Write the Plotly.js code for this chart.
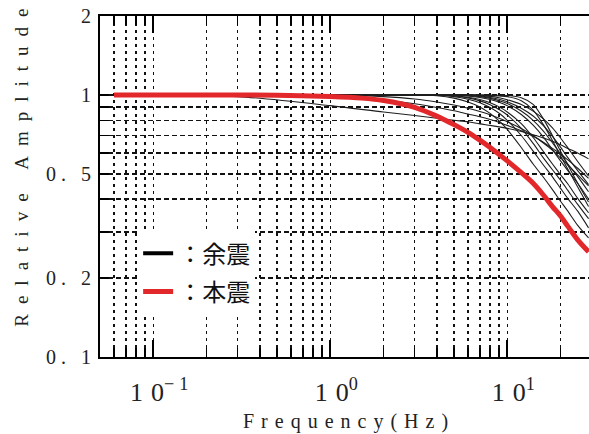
<!DOCTYPE html>
<html><head><meta charset="utf-8">
<script src="https://cdn.plot.ly/plotly-3.0.1.min.js"></script>
<style>html,body{margin:0;padding:0;background:#fff;overflow:hidden}</style>
</head><body><div id="chart" style="width:589px;height:434px"></div>
<script>
// ---- data ----
const freq = [0.06, 0.3, 1, 2, 3, 4, 5, 6, 7, 8, 9, 10, 12, 14, 16, 18, 20, 22, 25, 28.8];
const as01 = [1.0, 0.985, 0.91, 0.86, 0.835, 0.815, 0.80, 0.79, 0.775, 0.765, 0.755, 0.745, 0.725, 0.705, 0.685, 0.665, 0.645, 0.625, 0.60, 0.57];
const as02 = [1.0, 0.998, 0.985, 0.955, 0.925, 0.895, 0.87, 0.845, 0.825, 0.805, 0.785, 0.765, 0.73, 0.695, 0.66, 0.625, 0.595, 0.565, 0.525, 0.48];
const as03 = [1.0, 1.0, 0.997, 0.985, 0.965, 0.94, 0.915, 0.89, 0.865, 0.84, 0.815, 0.79, 0.745, 0.70, 0.655, 0.615, 0.575, 0.54, 0.495, 0.45];
const as04 = [1.0, 1.0, 1.0, 1.0, 0.999, 0.992, 0.972, 0.94, 0.90, 0.85, 0.795, 0.738, 0.63, 0.545, 0.485, 0.435, 0.393, 0.36, 0.318, 0.285];
const as05 = [1.0, 1.0, 1.0, 1.0, 1.0, 0.997, 0.985, 0.963, 0.934, 0.895, 0.851, 0.80, 0.70, 0.61, 0.54, 0.487, 0.44, 0.402, 0.36, 0.311];
const as06 = [1.0, 1.0, 1.0, 1.0, 1.0, 0.999, 0.991, 0.974, 0.949, 0.918, 0.879, 0.838, 0.745, 0.653, 0.575, 0.518, 0.473, 0.432, 0.382, 0.337];
const as07 = [1.0, 1.0, 1.0, 1.0, 1.0, 1.0, 0.993, 0.98, 0.96, 0.933, 0.90, 0.861, 0.777, 0.688, 0.608, 0.545, 0.496, 0.457, 0.403, 0.355];
const as08 = [1.0, 1.0, 1.0, 1.0, 1.0, 1.0, 0.998, 0.991, 0.978, 0.96, 0.937, 0.909, 0.842, 0.766, 0.69, 0.618, 0.56, 0.514, 0.46, 0.40];
const as09 = [1.0, 1.0, 1.0, 1.0, 1.0, 1.0, 1.0, 0.994, 0.985, 0.97, 0.95, 0.927, 0.868, 0.80, 0.728, 0.657, 0.595, 0.545, 0.488, 0.427];
const as10 = [1.0, 1.0, 1.0, 1.0, 1.0, 1.0, 1.0, 0.996, 0.99, 0.977, 0.962, 0.941, 0.89, 0.831, 0.763, 0.695, 0.632, 0.576, 0.514, 0.455];
const as11 = [1.0, 1.0, 1.0, 1.0, 1.0, 1.0, 1.0, 0.999, 0.994, 0.987, 0.975, 0.959, 0.919, 0.867, 0.81, 0.748, 0.685, 0.628, 0.557, 0.49];
const as12 = [1.0, 1.0, 1.0, 1.0, 1.0, 1.0, 1.0, 1.0, 0.997, 0.994, 0.99, 0.985, 0.95, 0.875, 0.77, 0.67, 0.585, 0.52, 0.445, 0.375];
const as13 = [1.0, 1.0, 1.0, 1.0, 1.0, 1.0, 1.0, 1.0, 1.0, 0.998, 0.997, 0.995, 0.975, 0.92, 0.81, 0.70, 0.61, 0.54, 0.46, 0.39];
const aftershocks = [as01, as02, as03, as04, as05, as06, as07, as08, as09, as10, as11, as12, as13];

const mainFreq = [0.06, 0.2, 0.5, 1, 1.5, 2, 3, 4, 5, 6, 7, 8, 10, 12, 14, 16, 18, 20, 22, 25, 28.8];
const mainshock = [1.0, 1.0, 0.997, 0.985, 0.972, 0.952, 0.897, 0.83, 0.77, 0.72, 0.672, 0.63, 0.56, 0.505, 0.46, 0.415, 0.375, 0.345, 0.315, 0.28, 0.252];

const legendLabels = ['：余震', '：本震'];
const xMajor = [0.1, 1, 10];
const xExponents = ['−1', '0', '1'];
const xMinor = [0.06, 0.07, 0.08, 0.09, 0.2, 0.3, 0.4, 0.5, 0.6, 0.7, 0.8, 0.9, 2, 3, 4, 5, 6, 7, 8, 9, 20];
const yMajor = [0.1, 0.2, 0.5, 1, 2];
const yLabels = ['0.1', '0.2', '0.5', '1', '2'];
const yMinor = [0.3, 0.4, 0.6, 0.7, 0.8, 0.9];
const xTitle = 'Frequency(Hz)';
const yTitle = 'Relative Amplitude';

// ---- helpers ----
const SERIF = '"Liberation Serif"';
function spaced(s, ls) {
  if (s.length < 2) return s;
  return '<span style="letter-spacing:' + ls + 'px">' + s.slice(0, -1) + '</span>' + s.slice(-1);
}

const traces = aftershocks.map(a => ({
  x: freq, y: a, type: 'scatter', mode: 'lines',
  line: {color: '#1e1e1e', width: 1.1, shape: 'spline', smoothing: 0.8},
  showlegend: false, hoverinfo: 'skip'
}));
traces.push({x: [null], y: [null], type: 'scatter', mode: 'lines', legendgroup: 'a',
  line: {color: '#000', width: 4}, name: legendLabels[0], showlegend: true});
traces.push({x: mainFreq, y: mainshock, type: 'scatter', mode: 'lines', legendgroup: 'b',
  line: {color: '#e3282b', width: 5, shape: 'spline', smoothing: 0.8},
  name: legendLabels[1], showlegend: true});

const gridCol = '#111';
const layout = {
  width: 589, height: 434,
  margin: {l: 100, r: 0, t: 16, b: 77, pad: 0},
  paper_bgcolor: '#fff', plot_bgcolor: '#fff',
  font: {family: SERIF, color: '#222'},
  showlegend: true,
  legend: {x: 0.078, y: 0.369, xanchor: 'left', yanchor: 'top', bgcolor: '#fff',
    traceorder: 'grouped', tracegroupgap: 4,
    borderwidth: 0, font: {family: 'Noto Sans CJK JP', size: 24, color: '#111'}},
  xaxis: {
    type: 'log', range: [Math.log10(0.05), Math.log10(28.96)],
    tickmode: 'array', tickvals: xMajor,
    ticktext: xExponents.map(e => '<span style="letter-spacing:8px">1</span>0<sup>' + spaced(e, 5) + '</sup>'),
    ticks: 'inside', ticklen: 17, tickwidth: 2, tickcolor: '#000',
    ticklabelstandoff: 11, ticklabelshift: 6,
    showline: true, linewidth: 2, linecolor: '#000', mirror: 'ticks',
    showgrid: true, gridcolor: gridCol, gridwidth: 1.5, griddash: '3px,4px',
    zeroline: false, tickfont: {family: SERIF, size: 26, color: '#222'},
    minor: {tickmode: 'array', tickvals: xMinor, ticks: 'inside', ticklen: 9, tickwidth: 1.5,
      tickcolor: '#000', showgrid: true, gridcolor: gridCol, gridwidth: 1.5, griddash: '3px,4px'}
  },
  yaxis: {
    type: 'log', range: [-1, Math.log10(2)],
    tickmode: 'array', tickvals: yMajor, ticktext: yLabels.map(s => spaced(s.replace('.', '. '), 5)),
    ticks: 'inside', ticklen: 9, tickwidth: 1.5, tickcolor: '#000', ticklabelstandoff: 3,
    showline: true, linewidth: 2, linecolor: '#000', mirror: false,
    showgrid: true, gridcolor: gridCol, gridwidth: 1.5, griddash: '5px,3px',
    zeroline: false, tickfont: {family: SERIF, size: 20, color: '#222'},
    minor: {tickmode: 'array', tickvals: yMinor, ticks: 'inside', ticklen: 9, tickwidth: 1.5,
      tickcolor: '#000', showgrid: true, gridcolor: gridCol, gridwidth: 1.5, griddash: '5px,3px'}
  },
  annotations: [
    {text: spaced(xTitle, 7), xref: 'paper', yref: 'paper', x: (345 - 100) / 489, y: -0.19,
      xanchor: 'center', yanchor: 'middle', showarrow: false,
      font: {family: SERIF, size: 20, color: '#222'}},
    {text: spaced(yTitle, 10), xref: 'paper', yref: 'paper', x: (22 - 100) / 489, y: 0.555,
      xanchor: 'center', yanchor: 'middle', showarrow: false, textangle: -90,
      font: {family: SERIF, size: 19, color: '#222'}}
  ]
};

Plotly.newPlot('chart', traces, layout, {staticPlot: true, displayModeBar: false});
</script>
</body></html>
